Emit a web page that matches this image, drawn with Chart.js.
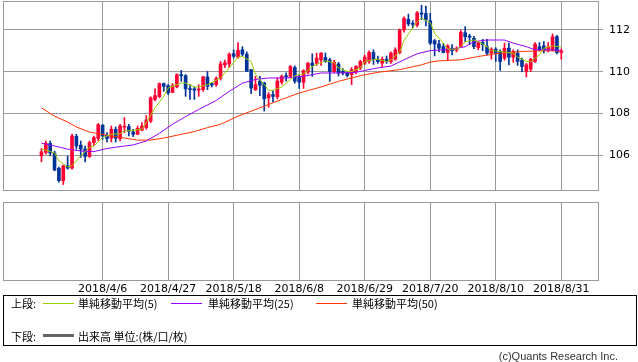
<!DOCTYPE html>
<html>
<head>
<meta charset="utf-8">
<script src="https://cdn.jsdelivr.net/npm/chart.js@4/dist/chart.umd.min.js"></script>
<style>
  body { margin: 0; background: #fff; width: 638px; height: 362px; position: relative; overflow: hidden;
         font-family: "Noto Sans CJK JP", "DejaVu Sans", sans-serif; color: #000; }
  #priceChart { position: absolute; left: 0; top: 0; }
  #volChart { position: absolute; left: 0; top: 192px; }
  #legend { position: absolute; left: 3px; top: 295px; width: 632px; height: 49px; border: 1px solid #000; font-size: 11px; }
  #legend span { position: absolute; line-height: 14px; white-space: nowrap; }
  #legend i { position: absolute; display: block; height: 1px; width: 31px; }
  #copy { position: absolute; right: 20px; top: 349px; font: 11px "Liberation Sans", sans-serif; color: #333; line-height: 14px; }
</style>
</head>
<body>
<canvas id="priceChart" width="638" height="192"></canvas>
<canvas id="volChart" width="638" height="106"></canvas>
<div id="legend">
  <span style="left:7px;top:0">上段:</span>
  <i style="left:39px;top:7px;background:#99cc00"></i>
  <span style="left:74px;top:0">単純移動平均(5)</span>
  <i style="left:167px;top:7px;background:#9900ff"></i>
  <span style="left:204px;top:0">単純移動平均(25)</span>
  <i style="left:312px;top:7px;background:#ff3300"></i>
  <span style="left:348px;top:0">単純移動平均(50)</span>
  <span style="left:7px;top:33px">下段:</span>
  <i style="left:39px;top:38px;height:3px;background:#666"></i>
  <span style="left:74px;top:33px">出来高 単位:(株/口/枚)</span>
</div>
<div id="copy">(c)Quants Research Inc.</div>
<script>
// daily candles, 2018/3/19 .. 2018/8/31 (one per weekday)
const openP = [105.97,106.13,106.56,106.10,105.37,104.78,105.50,105.38,106.90,106.48,
  106.29,105.94,106.60,106.80,107.43,106.95,106.81,107.24,106.80,107.34,
  107.37,107.11,107.00,107.20,107.32,107.63,108.67,108.80,109.43,109.33,
  109.01,109.27,109.86,109.81,109.19,109.18,109.12,109.14,109.75,109.43,
  109.38,109.68,110.33,110.37,110.86,110.70,111.05,110.84,110.10,109.14,
  109.55,109.46,108.75,108.90,108.80,109.50,109.78,109.78,110.20,109.75,
  109.50,109.98,110.41,110.41,110.57,110.68,110.57,110.01,110.37,110.01,
  109.94,109.86,110.01,110.18,110.41,110.49,110.92,110.60,110.41,110.60,
  110.49,110.60,110.92,112.00,112.51,112.32,112.24,112.82,112.79,112.44,
  111.49,111.33,111.20,110.92,111.13,111.03,111.20,111.87,111.71,111.60,
  111.16,111.40,111.20,110.89,111.08,110.97,110.65,111.13,110.70,110.89,
  110.57,110.01,110.13,110.49,111.20,111.24,111.05,111.05,111.68,110.92];
const highP = [106.32,106.68,106.68,106.19,105.43,105.52,105.95,107.01,107.00,106.68,
  106.44,106.68,106.92,107.52,107.48,107.08,107.40,107.35,107.48,107.80,
  107.48,107.24,107.40,107.56,107.90,108.80,109.18,109.46,109.46,109.38,
  109.43,109.90,110.06,109.86,109.38,109.27,109.38,109.78,110.01,109.49,
  109.75,110.49,110.56,110.90,111.05,111.40,111.20,110.95,110.12,109.78,
  109.78,109.50,109.00,109.10,109.70,109.85,109.95,110.30,110.28,109.85,
  110.10,110.45,110.86,110.89,110.92,110.90,110.65,110.55,110.45,110.15,
  110.00,110.20,110.30,110.55,110.80,111.00,111.05,110.75,110.70,110.75,
  110.95,111.15,112.05,112.63,112.76,112.45,112.90,113.19,113.15,112.80,
  111.55,111.50,111.35,111.30,111.30,111.20,111.98,112.16,111.80,111.70,
  111.45,111.55,111.55,111.15,111.15,111.05,111.37,111.37,111.05,111.05,
  110.65,110.40,110.65,111.40,111.40,111.45,111.40,111.81,111.75,111.10];
const lowP = [105.68,106.05,105.97,105.25,104.70,104.59,105.33,105.33,106.29,105.89,
  105.68,105.89,106.44,106.70,106.76,106.63,106.63,106.63,106.68,107.08,
  106.92,106.89,106.98,107.16,107.24,107.56,108.60,108.75,109.06,108.90,
  108.99,109.22,109.54,108.82,108.67,108.67,108.82,109.06,109.14,109.27,
  109.30,109.60,110.20,110.20,110.65,110.65,110.75,110.00,108.95,109.10,
  108.85,108.11,108.30,108.55,108.70,109.40,109.55,109.70,109.45,109.20,
  109.20,109.90,109.78,110.30,110.30,110.45,109.54,109.95,109.80,109.85,
  109.75,109.38,109.90,110.10,110.35,110.40,110.35,110.40,110.25,110.40,
  110.40,110.55,110.85,111.90,112.20,112.10,112.15,112.50,112.20,111.30,
  110.76,110.95,110.90,110.57,110.80,110.95,111.15,111.44,111.30,111.10,
  111.05,111.00,110.80,110.60,110.49,110.06,110.55,110.33,110.45,110.30,
  110.00,109.75,110.00,110.45,111.00,110.90,110.95,111.00,110.85,110.60];
const closeP = [106.16,106.57,106.10,105.29,104.78,105.49,105.38,106.92,106.44,106.29,
  105.94,106.60,106.84,107.46,106.92,106.80,107.24,106.81,107.40,107.38,
  107.14,107.00,107.29,107.40,107.68,108.75,108.86,109.43,109.30,108.99,
  109.33,109.86,109.81,109.18,109.14,109.11,109.17,109.75,109.30,109.37,
  109.68,110.38,110.43,110.84,110.74,111.03,110.84,110.03,109.22,109.38,
  109.35,108.70,108.90,108.82,109.55,109.78,109.76,110.25,109.55,109.50,
  110.05,110.41,110.30,110.65,110.89,110.49,110.01,110.46,109.94,109.94,
  109.82,110.10,110.25,110.49,110.70,110.92,110.57,110.49,110.60,110.49,
  110.89,111.05,112.00,112.56,112.29,112.27,112.82,112.76,112.48,111.37,
  111.33,111.13,110.92,111.24,111.01,111.10,111.89,111.68,111.65,111.20,
  111.40,111.30,110.89,111.08,110.89,110.49,111.13,110.70,110.97,110.49,
  110.25,110.33,110.60,111.32,111.05,111.05,111.20,111.68,110.92,111.01];

// moving averages: [day index, value]
const ma5 = [[0,106.29],[1,106.25],[3,106.1],[4,105.73],[6,105.44],[7,105.49],[9,105.97],[11,106.37],
  [12,106.44],[14,106.84],[16,107.0],[18,107.03],[19,107.16],[21,107.19],[23,107.24],[24,107.56],
  [26,108.27],[28,108.82],[29,109.22],[32,109.46],[33,109.46],[35,109.27],[36,109.27],[38,109.38],
  [41,109.7],[43,110.18],[45,110.7],[46,110.73],[48,110.49],[49,109.86],[51,109.38],[52,109.11],
  [53,109.11],[55,109.27],[57,109.62],[58,109.81],[60,109.9],[62,110.25],[64,110.44],[65,110.52],
  [67,110.44],[68,110.18],[70,110.01],[71,110.01],[73,110.18],[74,110.49],[76,110.57],[77,110.6],
  [79,110.49],[80,110.57],[82,110.95],[83,111.5],[85,112.1],[86,112.4],[87,112.56],[89,112.35],
  [90,111.84],[92,111.37],[93,111.08],[95,111.08],[96,111.2],[97,111.44],[99,111.52],[100,111.44],
  [102,111.2],[103,111.01],[105,110.97],[106,110.94],[108,110.89],[109,110.7],[111,110.49],[112,110.49],
  [114,110.81],[115,111.13],[117,111.24],[119,111.18]];
const ma25 = [[0,106.57],[3,106.44],[6,106.29],[9,106.2],[12,106.17],[15,106.32],[18,106.41],[21,106.49],
  [24,106.68],[27,107.05],[30,107.48],[33,107.85],[36,108.19],[40,108.62],[43,109.06],[46,109.45],
  [49,109.63],[52,109.7],[56,109.7],[60,109.78],[64,109.94],[68,109.94],[72,109.97],[74,110.06],
  [77,110.18],[80,110.27],[83,110.57],[86,110.86],[89,111.01],[94,111.08],[97,111.2],[99,111.44],
  [102,111.52],[106,111.52],[108,111.37],[111,111.2],[113,111.05],[116,111.05],[119,111.02]];
const ma50 = [[0,108.27],[3,107.87],[6,107.59],[8,107.35],[11,107.11],[13,107.03],[16,106.92],[19,106.82],
  [22,106.72],[25,106.72],[28,106.82],[32,107.0],[35,107.13],[38,107.32],[41,107.48],[45,107.87],
  [50,108.27],[55,108.67],[59,108.98],[64,109.27],[68,109.54],[73,109.81],[77,109.97],[82,110.1],
  [87,110.33],[89,110.46],[91,110.52],[96,110.57],[100,110.73],[105,110.89],[110,110.97],[114,111.0],[119,111.0]];

const tickIdx = [14, 29, 44, 59, 74, 89, 104, 119];
const tickLabels = ['2018/4/6', '2018/4/27', '2018/5/18', '2018/6/8', '2018/6/29', '2018/7/20', '2018/8/10', '2018/8/31'];
const priceTicks = [106, 108, 110, 112];

const RED = '#ff0033', BLUE = '#003399', GRID = '#999';
const xMin = -8.8, xMax = 127.4;

const frame = {
  id: 'frame',
  afterDraw(chart) {
    const a = chart.chartArea, ctx = chart.ctx;
    ctx.save();
    ctx.strokeStyle = GRID;
    ctx.lineWidth = 1;
    ctx.strokeRect(Math.round(a.left) + 0.5, Math.round(a.top) + 0.5,
                   Math.round(a.right - a.left), Math.round(a.bottom - a.top));
    ctx.restore();
  }
};

// stop Chart.js from reserving room for half-labels at the ends of an axis
function noEdgePad(s) {
  s.paddingTop = 0; s.paddingBottom = 0; s.paddingLeft = 0; s.paddingRight = 0;
}

const days = openP.map((_, i) => i);
const candleColors = days.map(i => closeP[i] >= openP[i] ? RED : BLUE);
const maLine = (pts, color) => ({
  type: 'line', data: pts.map(p => ({ x: p[0], y: p[1] })), borderColor: color,
  borderWidth: 1, pointRadius: 0, tension: 0, order: 0
});

const xAxis = (showLabels) => ({
  type: 'linear', min: xMin, max: xMax, offset: false,
  afterBuildTicks: s => { s.ticks = tickIdx.map(v => ({ value: v })); },
  afterFit: s => { s.height = showLabels ? 18 : 0; noEdgePad(s); },
  grid: { color: GRID, lineWidth: 1, drawTicks: false, offset: false },
  border: { display: false },
  ticks: {
    display: showLabels, padding: 3, maxRotation: 0, autoSkip: false,
    color: '#000', font: { family: 'DejaVu Sans', size: 11 },
    callback: v => tickLabels[tickIdx.indexOf(v)]
  }
});

new Chart(document.getElementById('priceChart'), {
  type: 'bar',
  data: {
    datasets: [
      { data: days.map(i => ({ x: i, y: [lowP[i], highP[i]] })), backgroundColor: candleColors,
        barThickness: 1, grouped: false, order: 2 },
      { data: days.map(i => ({ x: i, y: [openP[i], closeP[i]] })), backgroundColor: candleColors,
        barThickness: 3, minBarLength: 1, grouped: false, order: 1 },
      maLine(ma5, '#99cc00'),
      maLine(ma25, '#9900ff'),
      maLine(ma50, '#ff3300')
    ]
  },
  options: {
    responsive: false, animation: false,
    layout: { autoPadding: false, padding: { left: 3, top: 1, right: 0, bottom: 2 } },
    plugins: { legend: { display: false }, tooltip: { enabled: false } },
    scales: {
      x: xAxis(false),
      y: {
        position: 'right', min: 104.33, max: 113.39,
        afterBuildTicks: s => { s.ticks = priceTicks.map(v => ({ value: v })); },
        afterFit: s => { s.width = 40; noEdgePad(s); },
        grid: { color: GRID, lineWidth: 1, tickLength: 5 },
        border: { display: false },
        ticks: { padding: 6, color: '#000', font: { family: 'DejaVu Sans', size: 11 } }
      }
    }
  },
  plugins: [frame]
});

new Chart(document.getElementById('volChart'), {
  type: 'bar',
  data: { datasets: [{ data: [] }] },
  options: {
    responsive: false, animation: false,
    layout: { autoPadding: false, padding: { left: 3, top: 10, right: 0, bottom: 0 } },
    plugins: { legend: { display: false }, tooltip: { enabled: false } },
    scales: {
      x: xAxis(true),
      y: {
        position: 'right', min: 0, max: 1,
        afterFit: s => { s.width = 40; noEdgePad(s); },
        grid: { display: false }, border: { display: false }, ticks: { display: false }
      }
    }
  },
  plugins: [frame]
});
</script>
</body>
</html>
